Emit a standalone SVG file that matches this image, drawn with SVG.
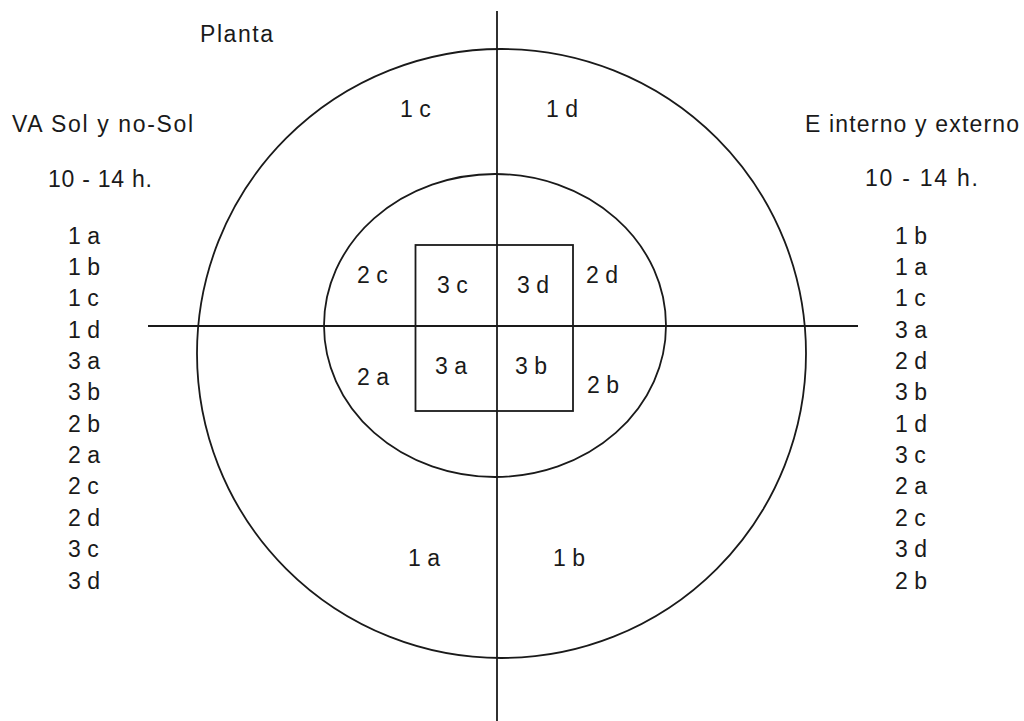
<svg xmlns="http://www.w3.org/2000/svg" width="1024" height="721" viewBox="0 0 1024 721">
<style>
.ln{fill:none;stroke:#1a1a1a;stroke-width:1.8}
text{font-family:"Liberation Sans",Arial,sans-serif;font-size:23px;fill:#1a1a1a}
</style>
<rect width="1024" height="721" fill="#fff"/>
<g id="outer-circle"><circle class="ln" cx="501.5" cy="353.5" r="304.5"/></g>
<g id="inner-ellipse"><ellipse class="ln" cx="495" cy="325.5" rx="171" ry="151.5"/></g>
<g id="square"><rect class="ln" x="415.5" y="245" width="157.5" height="166"/></g>
<g id="axes">
<line class="ln" x1="497" y1="11" x2="497" y2="721"/>
<line class="ln" x1="148" y1="326" x2="858" y2="326"/>
</g>
<g id="titles">
<text x="200" y="42" textLength="73" lengthAdjust="spacing">Planta</text>
<text x="12" y="132" textLength="181" lengthAdjust="spacing">VA Sol y no-Sol</text>
<text x="48" y="187" textLength="104" lengthAdjust="spacing">10 - 14 h.</text>
<text x="805" y="132" textLength="214" lengthAdjust="spacing">E interno y externo</text>
<text x="865" y="186" textLength="113" lengthAdjust="spacing">10 - 14 h.</text>
</g>
<g id="zones">
<text x="400" y="117">1 c</text>
<text x="546" y="117">1 d</text>
<text x="357" y="283">2 c</text>
<text x="586" y="283">2 d</text>
<text x="437" y="293">3 c</text>
<text x="517" y="293">3 d</text>
<text x="357" y="385">2 a</text>
<text x="435" y="374">3 a</text>
<text x="515" y="374">3 b</text>
<text x="587" y="393">2 b</text>
<text x="408" y="566">1 a</text>
<text x="553" y="566">1 b</text>
</g>
<g id="left-list">
<text x="68" y="243.5">1 a</text>
<text x="68" y="274.9">1 b</text>
<text x="68" y="306.2">1 c</text>
<text x="68" y="337.6">1 d</text>
<text x="68" y="368.9">3 a</text>
<text x="68" y="400.3">3 b</text>
<text x="68" y="431.7">2 b</text>
<text x="68" y="463">2 a</text>
<text x="68" y="494.4">2 c</text>
<text x="68" y="525.7">2 d</text>
<text x="68" y="557.1">3 c</text>
<text x="68" y="588.5">3 d</text>
</g>
<g id="right-list">
<text x="895" y="243.5">1 b</text>
<text x="895" y="274.9">1 a</text>
<text x="895" y="306.2">1 c</text>
<text x="895" y="337.6">3 a</text>
<text x="895" y="368.9">2 d</text>
<text x="895" y="400.3">3 b</text>
<text x="895" y="431.7">1 d</text>
<text x="895" y="463">3 c</text>
<text x="895" y="494.4">2 a</text>
<text x="895" y="525.7">2 c</text>
<text x="895" y="557.1">3 d</text>
<text x="895" y="588.5">2 b</text>
</g>
</svg>
